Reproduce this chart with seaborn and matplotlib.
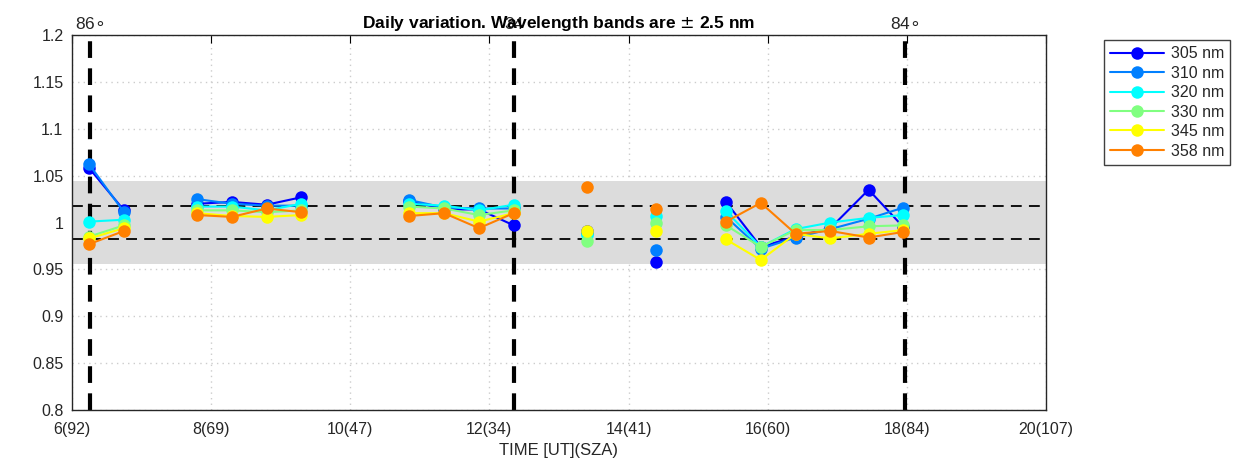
import numpy as np
import pandas as pd
import matplotlib
matplotlib.use("Agg")
import matplotlib.pyplot as plt
from matplotlib.lines import Line2D
import seaborn as sns

# measurement times (UT hours) and run segment ids (lines break between runs)
times = [6.25, 6.75, 7.8, 8.3, 8.8, 9.3, 10.85, 11.35, 11.85, 12.35,
         13.4, 14.4, 15.4, 15.9, 16.4, 16.9, 17.45, 17.95]
segment = [0, 0, 1, 1, 1, 1, 2, 2, 2, 2, 3, 4, 5, 5, 5, 5, 5, 5]

bands = ["305 nm", "310 nm", "320 nm", "330 nm", "345 nm", "358 nm"]
colors = ["#0000ff", "#0080ff", "#00ffff", "#80ff80", "#ffff00", "#ff8000"]

r305 = [1.058, 1.013, 1.020, 1.022, 1.019, 1.027, 1.023, 1.014, 1.014, 0.997,
        0.991, 0.958, 1.022, 0.974, 0.985, 0.994, 1.035, 0.995]
r310 = [1.062, 1.011, 1.025, 1.020, 1.018, 1.018, 1.024, 1.016, 1.015, 1.015,
        0.989, 0.971, 1.006, 0.972, 0.984, 0.993, 1.004, 1.016]
r320 = [1.001, 1.003, 1.017, 1.017, 1.013, 1.020, 1.020, 1.018, 1.013, 1.019,
        0.987, 1.007, 1.012, 0.974, 0.993, 1.000, 1.005, 1.008]
r330 = [0.985, 0.997, 1.013, 1.013, 1.011, 1.013, 1.017, 1.015, 1.008, 1.013,
        0.980, 0.999, 0.997, 0.974, 0.992, 0.992, 0.996, 0.997]
r345 = [0.983, 0.994, 1.010, 1.007, 1.006, 1.008, 1.010, 1.010, 1.001, 1.010,
        0.991, 0.991, 0.982, 0.960, 0.988, 0.983, 0.988, 0.992]
r358 = [0.977, 0.991, 1.008, 1.006, 1.015, 1.011, 1.007, 1.010, 0.994, 1.010,
        1.038, 1.014, 1.001, 1.021, 0.988, 0.991, 0.984, 0.990]
ratios = [r305, r310, r320, r330, r345, r358]

xticks = [6, 8, 10, 12, 14, 16, 18, 20]
xticklabels = ["6(92)", "8(69)", "10(47)", "12(34)", "14(41)", "16(60)", "18(84)", "20(107)"]
yticks = [0.8, 0.85, 0.9, 0.95, 1.0, 1.05, 1.1, 1.15, 1.2]
yticklabels = ["0.8", "0.85", "0.9", "0.95", "1", "1.05", "1.1", "1.15", "1.2"]

sza_times = [6.26, 12.36, 17.97]
sza_labels = ["86$\\circ$", "34", "84$\\circ$"]
band_lo, band_hi = 0.956, 1.044
lim_lo, lim_hi = 0.982, 1.018

rows = []
for b, vals in zip(bands, ratios):
    for t, s, v in zip(times, segment, vals):
        rows.append({"time": t, "seg": s, "band": b, "ratio": v})
df = pd.DataFrame(rows)

sns.set_style("white")
plt.rcParams["font.family"] = ["Liberation Sans", "DejaVu Sans"]

fig = plt.figure(figsize=(12.38, 4.68), dpi=100)
ax = fig.add_axes([0.058, 0.124, 0.787, 0.801])

ax.axhspan(band_lo, band_hi, color="#dcdcdc", lw=0, zorder=1)
for y in (lim_lo, lim_hi):
    ax.axhline(y, color="black", ls=(0, (6, 4)), lw=1.3, zorder=2)
for t in sza_times:
    ax.axvline(t, color="black", ls=(0, (4, 2.5)), lw=3, zorder=2)

sns.lineplot(data=df, x="time", y="ratio", hue="band", units="seg",
             estimator=None, palette=colors, marker="o", markersize=9,
             markeredgewidth=0, lw=1.5, sort=False, legend=False, ax=ax, zorder=3)

ax.set_xlim(6, 20)
ax.set_ylim(0.8, 1.2)
ax.set_xticks(xticks)
ax.set_xticklabels(xticklabels)
ax.set_yticks(yticks)
ax.set_yticklabels(yticklabels)
ax.tick_params(direction="in", length=6, width=0.8, labelsize=11.5,
               top=True, right=False, colors="black", labelcolor="#262626")
ax.tick_params(axis="x", pad=9)
ax.tick_params(axis="y", pad=6)
ax.grid(True, color="#cccccc", ls=(0, (1, 3)), lw=1.0, zorder=0)
ax.set_axisbelow(True)
for sp in ax.spines.values():
    sp.set_color("#262626")
    sp.set_linewidth(1.0)

ax.set_xlabel("TIME [UT](SZA)", fontsize=12, color="#262626", labelpad=4)
ax.set_ylabel("")
ax.set_title("Daily variation. Wavelength bands are $\\pm$ 2.5 nm",
             fontsize=12.5, fontweight="bold", color="black", pad=5)

for t, lab in zip(sza_times, sza_labels):
    ax.text(t, 1.2035, lab, ha="center", va="bottom", fontsize=12.5)

handles = [Line2D([0], [0], color=c, marker="o", markersize=9, lw=1.5,
                  markeredgewidth=0) for c in colors]
fig.legend(handles, bands, loc="upper left", bbox_to_anchor=(0.885, 0.932),
           fontsize=11.5, frameon=True, fancybox=False, edgecolor="#404040",
           framealpha=1, handlelength=3.4, handletextpad=0.4,
           labelspacing=0.28, borderpad=0.4)

fig.savefig("out.png", dpi=100)
